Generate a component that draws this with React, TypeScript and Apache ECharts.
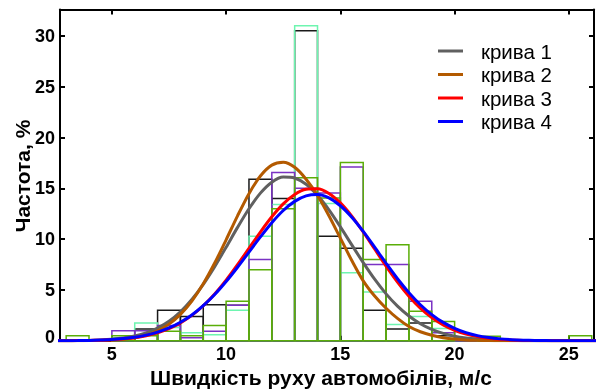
import React, { useEffect, useRef } from "react";
import * as echarts from "echarts";

// Histogram bin edges (m/s)
const binEdges = [3, 4, 5, 6, 7, 8, 9, 10, 11, 12, 13, 14, 15, 16, 17, 18, 19, 20, 21, 22, 23, 24, 25, 26];
// Histogram heights (%) per bin, four samples
const histBlack = [0, 0, 0.3, 1.15, 3.0, 2.4, 3.55, 3.5, 15.9, 14.0, 30.5, 10.3, 9.1, 3.0, 1.15, 1.75, 0.5, 0.1, 0, 0, 0, 0, 0];
const histAqua = [0, 0, 0.3, 1.75, 1.3, 0.8, 0.6, 3.0, 10.3, 13.4, 31.0, 13.5, 6.7, 4.8, 1.6, 2.4, 1.2, 0.3, 0.2, 0, 0, 0, 0];
const histPurple = [0, 0, 1.0, 1.0, 1.5, 0.3, 0.95, 3.5, 8.0, 16.55, 15.0, 14.55, 17.1, 7.5, 7.5, 3.9, 0.8, 0.2, 0, 0, 0, 0, 0];
const histGreen = [0.5, 0, 0.5, 0.5, 0.95, 0.5, 1.5, 3.9, 7.0, 13.0, 16.05, 14.05, 17.55, 8.0, 9.45, 2.9, 1.9, 0, 0.45, 0, 0, 0, 0.5];

// Fitted curves (%), sampled at xs
const xs = [2.5, 3, 3.5, 4, 4.5, 5, 5.5, 6, 6.5, 7, 7.5, 8, 8.5, 9, 9.5, 10, 10.5, 11, 11.5, 12, 12.5, 13, 13.5, 14, 14.5, 15, 15.5, 16, 16.5, 17, 17.5, 18, 18.5, 19, 19.5, 20, 20.5, 21, 21.5, 22, 22.5, 23, 23.5, 24, 24.5, 25, 25.5, 26, 26.5];
const curve1 = [0, 0.01, 0.02, 0.04, 0.08, 0.15, 0.27, 0.47, 0.78, 1.26, 1.93, 2.86, 4.07, 5.56, 7.3, 9.21, 11.16, 12.99, 14.53, 15.61, 16.12, 16.02, 15.4, 14.31, 12.88, 11.21, 9.44, 7.69, 6.06, 4.62, 3.41, 2.44, 1.68, 1.12, 0.73, 0.45, 0.27, 0.16, 0.09, 0.05, 0.03, 0.01, 0, 0, 0, 0, 0, 0, 0];
const curve2 = [0, 0, 0.01, 0.02, 0.04, 0.08, 0.16, 0.31, 0.56, 0.99, 1.64, 2.6, 3.91, 5.61, 7.65, 9.94, 12.3, 14.48, 16.22, 17.29, 17.56, 17.07, 15.9, 14.3, 12.3, 10.1, 7.9, 5.9, 4.4, 3.2, 2.2, 1.4, 0.89, 0.54, 0.31, 0.17, 0.09, 0.05, 0.02, 0.01, 0, 0, 0, 0, 0, 0, 0, 0, 0];
const curve3 = [0, 0.01, 0.02, 0.03, 0.06, 0.11, 0.19, 0.31, 0.5, 0.79, 1.19, 1.76, 2.5, 3.45, 4.61, 5.97, 7.49, 9.1, 10.7, 12.2, 13.47, 14.4, 14.91, 14.96, 14.5, 13.57, 12.27, 10.71, 9.03, 7.35, 5.78, 4.39, 3.22, 2.28, 1.56, 1.03, 0.66, 0.41, 0.24, 0.14, 0.08, 0.04, 0.02, 0.01, 0, 0, 0, 0, 0];
const curve4 = [0.01, 0.01, 0.02, 0.04, 0.08, 0.13, 0.22, 0.35, 0.56, 0.85, 1.26, 1.82, 2.54, 3.45, 4.55, 5.83, 7.24, 8.73, 10.22, 11.62, 12.82, 13.72, 14.26, 14.39, 14.06, 13.29, 12.16, 10.76, 9.21, 7.63, 6.11, 4.74, 3.55, 2.58, 1.81, 1.23, 0.81, 0.51, 0.32, 0.19, 0.11, 0.06, 0.03, 0.02, 0.01, 0, 0, 0, 0];

const curveNames = ["крива 1", "крива 2", "крива 3", "крива 4"];
const xTicks = [5, 10, 15, 20, 25];
const yTicks = [0, 5, 10, 15, 20, 25, 30];

const FONT = "'Liberation Sans', Arial, sans-serif";

export default function App() {
  const ref = useRef<HTMLDivElement>(null);
  useEffect(() => {
    if (!ref.current) return;
    const chart = echarts.init(ref.current, undefined, { renderer: "svg" });

    const histSeries = (vals: number[], color: string) => ({
      type: "custom",
      silent: true,
      xAxisIndex: 0,
      yAxisIndex: 0,
      data: vals.map((h, i) => [binEdges[i], binEdges[i + 1], h]),
      renderItem: (params: any, api: any) => {
        const h = api.value(2);
        if (!h) return null;
        const p0 = api.coord([api.value(0), h]);
        const p1 = api.coord([api.value(1), 0]);
        return {
          type: "rect",
          shape: { x: p0[0], y: p0[1], width: p1[0] - p0[0], height: p1[1] - p0[1] },
          style: { fill: "none", stroke: color, lineWidth: 1.5 },
        };
      },
    });

    const lineSeries = (name: string, vals: number[], color: string) => ({
      type: "line",
      name,
      data: xs.map((x, i) => [x, vals[i]]),
      smooth: 0.3,
      showSymbol: false,
      symbol: "none",
      clip: true,
      itemStyle: { color },
      lineStyle: { color, width: 3 },
    });

    const axisCommon = {
      type: "value",
      axisLine: { show: true, onZero: false, lineStyle: { color: "#000", width: 2 } },
      splitLine: { show: false },
    };

    chart.setOption({
      animation: false,
      grid: { left: 60, right: 2, top: 9.5, bottom: 49.2 },
      xAxis: [
        {
          ...axisCommon,
          min: 2.73,
          max: 26.1,
          position: "bottom",
          axisTick: { show: true, inside: true, length: 5, customValues: xTicks, lineStyle: { color: "#000", width: 2 } },
          axisLabel: { customValues: xTicks, fontSize: 18, fontWeight: "bold", color: "#000", fontFamily: FONT, margin: 4 },
        },
        {
          ...axisCommon,
          min: 2.73,
          max: 26.1,
          position: "top",
          axisTick: { show: true, inside: true, length: 5, customValues: xTicks, lineStyle: { color: "#000", width: 2 } },
          axisLabel: { show: false },
        },
      ],
      yAxis: [
        {
          ...axisCommon,
          min: 0,
          max: 32.6,
          position: "left",
          axisTick: { show: true, inside: true, length: 5, customValues: yTicks, lineStyle: { color: "#000", width: 2 } },
          axisLabel: {
            customValues: yTicks,
            fontSize: 18,
            fontWeight: "bold",
            color: "#000",
            fontFamily: FONT,
            margin: 5,
            formatter: (v: number) => (v === 0 ? "{z|0}" : String(v)),
            rich: { z: { fontSize: 18, fontWeight: "bold", color: "#000", fontFamily: FONT, padding: [0, 0, 8, 0] } },
          },
        },
        {
          ...axisCommon,
          min: 0,
          max: 32.6,
          position: "right",
          axisTick: { show: true, inside: true, length: 5, customValues: yTicks, lineStyle: { color: "#000", width: 2 } },
          axisLabel: { show: false },
        },
      ],
      legend: {
        orient: "vertical",
        left: 438,
        top: 40.5,
        padding: 0,
        itemWidth: 25,
        itemHeight: 3,
        itemGap: 2.5,
        icon: "rect",
        data: curveNames,
        textStyle: { fontSize: 20.5, color: "#000", fontFamily: FONT, lineHeight: 20, padding: [0, 0, 0, 13] },
      },
      graphic: [
        {
          type: "text",
          x: 22,
          y: 176,
          rotation: Math.PI / 2,
          style: { text: "Частота, %", fontSize: 21, fontWeight: "bold", fontFamily: FONT, fill: "#000", align: "center", verticalAlign: "middle" },
        },
        {
          type: "text",
          x: 321,
          y: 377,
          style: { text: "Швидкість руху автомобілів, м/с", fontSize: 21, fontWeight: "bold", fontFamily: FONT, fill: "#000", align: "center", verticalAlign: "middle" },
        },
      ],
      series: [
        histSeries(histBlack, "#1a1a1a"),
        histSeries(histAqua, "#6ef5b0"),
        histSeries(histPurple, "#7a32c4"),
        histSeries(histGreen, "#5aae08"),
        lineSeries(curveNames[0], curve1, "#606060"),
        lineSeries(curveNames[1], curve2, "#b35a00"),
        lineSeries(curveNames[2], curve3, "#ff0000"),
        lineSeries(curveNames[3], curve4, "#0000ff"),
      ],
    });
    return () => chart.dispose();
  }, []);
  return <div ref={ref} style={{ position: "fixed", left: 0, top: 0, width: 596, height: 390 }} />;
}
